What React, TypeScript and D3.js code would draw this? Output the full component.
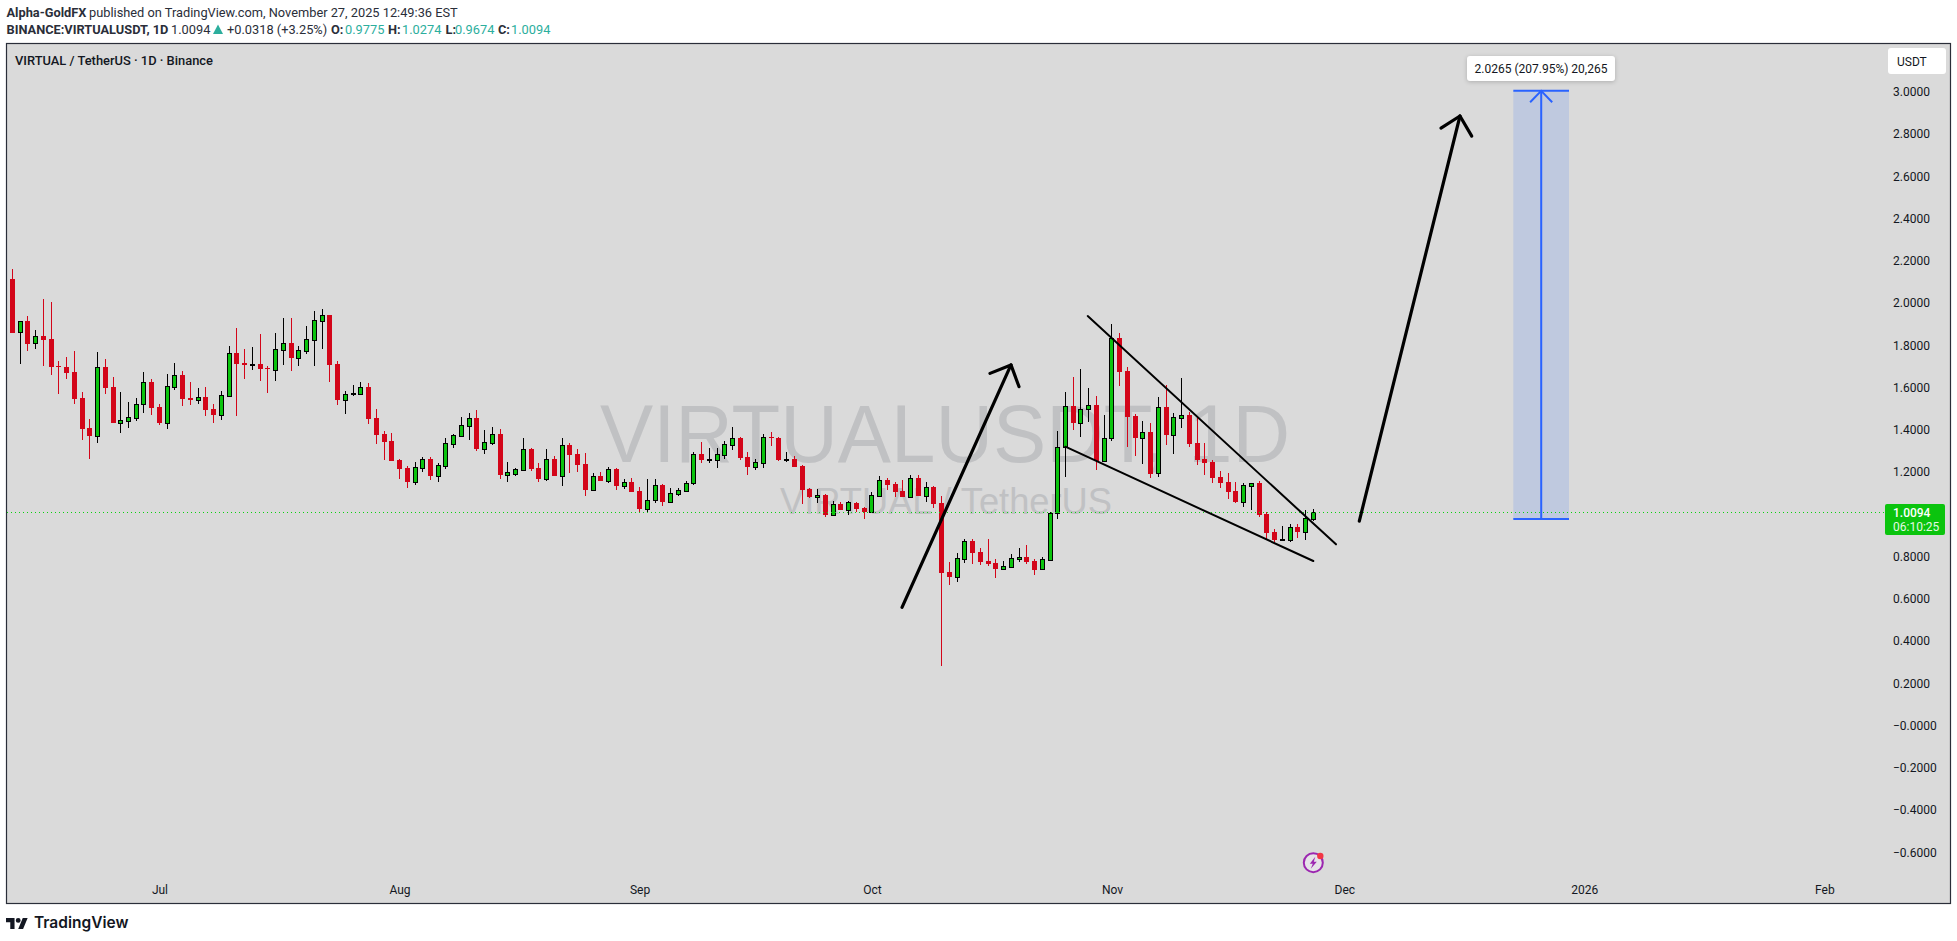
import { useEffect, useRef } from 'react';
import * as d3 from 'd3';

const width = 1957;
const height = 941;

// daily candles, 2025-06-12 to 2025-11-27
const firstDay = new Date(Date.UTC(2025, 5, 12));
const lastDay = new Date(Date.UTC(2025, 10, 27));

const opens = [
  2.114, 1.861, 1.915, 1.809, 1.844, 1.83, 1.702, 1.697, 1.673, 1.55,
  1.408, 1.372, 1.697, 1.602, 1.434, 1.443, 1.457, 1.52, 1.626, 1.508,
  1.434, 1.604, 1.659, 1.55, 1.543, 1.555, 1.498, 1.472, 1.561, 1.763,
  1.716, 1.707, 1.711, 1.692, 1.685, 1.779, 1.811, 1.741, 1.774, 1.826,
  1.916, 1.943, 1.711, 1.543, 1.569, 1.571, 1.602, 1.456, 1.38, 1.347,
  1.257, 1.219, 1.155, 1.221, 1.262, 1.183, 1.23, 1.334, 1.372, 1.42,
  1.456, 1.311, 1.339, 1.38, 1.188, 1.192, 1.21, 1.309, 1.219, 1.169,
  1.262, 1.183, 1.328, 1.285, 1.238, 1.117, 1.181, 1.159, 1.214, 1.136,
  1.153, 1.11, 1.027, 1.066, 1.139, 1.06, 1.098, 1.112, 1.147, 1.285,
  1.257, 1.259, 1.282, 1.33, 1.361, 1.271, 1.226, 1.244, 1.366, 1.361,
  1.257, 1.262, 1.229, 1.12, 1.084, 1.091, 0.998, 1.049, 1.022, 1.054,
  1.03, 1.013, 1.087, 1.162, 1.144, 1.11, 1.084, 1.172, 1.088, 1.129,
  1.054, 0.727, 0.705, 0.79, 0.874, 0.822, 0.779, 0.77, 0.743, 0.752,
  0.79, 0.798, 0.779, 0.74, 0.785, 1.005, 1.317, 1.513, 1.434, 1.497,
  1.517, 1.254, 1.36, 1.834, 1.678, 1.465, 1.363, 1.39, 1.194, 1.508,
  1.377, 1.457, 1.47, 1.338, 1.262, 1.248, 1.177, 1.153, 1.11, 1.06,
  1.136, 1.148, 1.002, 0.916, 0.878, 0.88, 0.94, 0.918, 0.9775,
];

const closes = [
  1.86, 1.913, 1.808, 1.842, 1.825, 1.697, 1.697, 1.669, 1.546, 1.404,
  1.371, 1.696, 1.598, 1.432, 1.445, 1.459, 1.52, 1.625, 1.503, 1.432,
  1.606, 1.658, 1.546, 1.541, 1.554, 1.494, 1.47, 1.563, 1.762, 1.711,
  1.707, 1.711, 1.688, 1.688, 1.781, 1.809, 1.74, 1.776, 1.828, 1.918,
  1.942, 1.707, 1.541, 1.568, 1.573, 1.601, 1.451, 1.375, 1.342, 1.252,
  1.214, 1.153, 1.222, 1.26, 1.181, 1.232, 1.336, 1.374, 1.421, 1.454,
  1.309, 1.341, 1.379, 1.186, 1.199, 1.213, 1.308, 1.214, 1.167, 1.26,
  1.181, 1.326, 1.281, 1.233, 1.115, 1.18, 1.158, 1.213, 1.134, 1.151,
  1.106, 1.025, 1.066, 1.137, 1.058, 1.099, 1.113, 1.147, 1.284, 1.257,
  1.262, 1.284, 1.331, 1.36, 1.267, 1.224, 1.246, 1.364, 1.363, 1.257,
  1.262, 1.224, 1.115, 1.082, 1.09, 0.997, 1.047, 1.02, 1.057, 1.025,
  1.011, 1.09, 1.161, 1.139, 1.106, 1.082, 1.17, 1.087, 1.128, 1.049,
  0.722, 0.703, 0.792, 0.872, 0.817, 0.774, 0.765, 0.741, 0.754, 0.792,
  0.796, 0.774, 0.736, 0.787, 1.005, 1.317, 1.511, 1.432, 1.497, 1.516,
  1.252, 1.36, 1.833, 1.674, 1.461, 1.361, 1.388, 1.191, 1.506, 1.375,
  1.459, 1.468, 1.333, 1.257, 1.243, 1.172, 1.148, 1.106, 1.058, 1.137,
  1.147, 0.997, 0.912, 0.878, 0.883, 0.938, 0.916, 0.981, 1.0094,
];

const highs = [
  2.161, 1.915, 1.939, 1.872, 2.019, 2.005, 1.726, 1.744, 1.773, 1.579,
  1.451, 1.768, 1.735, 1.65, 1.579, 1.531, 1.55, 1.673, 1.64, 1.522,
  1.664, 1.716, 1.678, 1.626, 1.598, 1.602, 1.522, 1.584, 1.797, 1.882,
  1.782, 1.792, 1.853, 1.702, 1.858, 1.929, 1.929, 1.797, 1.891, 1.962,
  1.972, 1.943, 1.726, 1.584, 1.612, 1.626, 1.621, 1.498, 1.394, 1.385,
  1.262, 1.229, 1.248, 1.271, 1.271, 1.243, 1.36, 1.38, 1.461, 1.479,
  1.494, 1.399, 1.413, 1.404, 1.248, 1.219, 1.361, 1.314, 1.243, 1.309,
  1.276, 1.361, 1.338, 1.309, 1.29, 1.196, 1.2, 1.224, 1.219, 1.167,
  1.172, 1.129, 1.167, 1.167, 1.143, 1.125, 1.125, 1.158, 1.295, 1.342,
  1.314, 1.314, 1.345, 1.413, 1.366, 1.295, 1.262, 1.38, 1.39, 1.366,
  1.295, 1.276, 1.233, 1.125, 1.12, 1.096, 1.063, 1.058, 1.063, 1.058,
  1.035, 1.106, 1.181, 1.172, 1.153, 1.162, 1.186, 1.186, 1.153, 1.134,
  1.087, 0.774, 0.815, 0.883, 0.883, 0.841, 0.883, 0.789, 0.779, 0.812,
  0.841, 0.855, 0.789, 0.798, 1.011, 1.394, 1.579, 1.65, 1.688, 1.598,
  1.56, 1.47, 1.901, 1.858, 1.697, 1.475, 1.442, 1.432, 1.555, 1.612,
  1.48, 1.645, 1.484, 1.461, 1.338, 1.257, 1.205, 1.195, 1.153, 1.148,
  1.148, 1.158, 1.011, 0.931, 0.945, 0.954, 0.954, 1.02, 1.0274,
];

const lows = [
  1.86, 1.711, 1.773, 1.782, 1.702, 1.659, 1.569, 1.64, 1.522, 1.352,
  1.262, 1.337, 1.569, 1.432, 1.385, 1.408, 1.442, 1.479, 1.47, 1.423,
  1.404, 1.588, 1.513, 1.517, 1.522, 1.465, 1.432, 1.446, 1.555, 1.465,
  1.64, 1.683, 1.631, 1.574, 1.631, 1.707, 1.678, 1.702, 1.759, 1.702,
  1.782, 1.626, 1.517, 1.475, 1.56, 1.568, 1.427, 1.333, 1.257, 1.252,
  1.167, 1.125, 1.139, 1.2, 1.162, 1.153, 1.214, 1.314, 1.366, 1.352,
  1.3, 1.285, 1.328, 1.167, 1.153, 1.181, 1.205, 1.205, 1.153, 1.158,
  1.181, 1.134, 1.196, 1.2, 1.087, 1.115, 1.158, 1.148, 1.115, 1.12,
  1.106, 1.006, 1.006, 1.054, 1.039, 1.058, 1.087, 1.11, 1.139, 1.243,
  1.243, 1.219, 1.262, 1.304, 1.257, 1.186, 1.21, 1.219, 1.323, 1.252,
  1.248, 1.224, 1.049, 1.077, 1.054, 0.987, 0.992, 1.02, 0.997, 1.011,
  0.978, 1.011, 1.082, 1.115, 1.082, 1.082, 1.077, 1.087, 1.058, 1.03,
  0.282, 0.666, 0.68, 0.77, 0.765, 0.76, 0.755, 0.699, 0.741, 0.746,
  0.774, 0.765, 0.713, 0.74, 0.781, 0.978, 1.177, 1.399, 1.366, 1.437,
  1.21, 1.248, 1.347, 1.607, 1.319, 1.276, 1.238, 1.172, 1.177, 1.328,
  1.285, 1.408, 1.319, 1.233, 1.186, 1.148, 1.124, 1.072, 1.054, 1.035,
  1.02, 0.987, 0.878, 0.869, 0.875, 0.869, 0.888, 0.878, 0.9674,
];

const priceTicks = [3, 2.8, 2.6, 2.4, 2.2, 2, 1.8, 1.6, 1.4, 1.2, 1, 0.8, 0.6, 0.4, 0.2, 0, -0.2, -0.4, -0.6];
const priceLabels = [
  '3.0000', '2.8000', '2.6000', '2.4000', '2.2000', '2.0000', '1.8000', '1.6000', '1.4000', '1.2000',
  '1.0000', '0.8000', '0.6000', '0.4000', '0.2000', '\u22120.0000', '\u22120.2000', '\u22120.4000', '\u22120.6000',
];

const monthTicks = [
  new Date(Date.UTC(2025, 6, 1)),
  new Date(Date.UTC(2025, 7, 1)),
  new Date(Date.UTC(2025, 8, 1)),
  new Date(Date.UTC(2025, 9, 1)),
  new Date(Date.UTC(2025, 10, 1)),
  new Date(Date.UTC(2025, 11, 1)),
  new Date(Date.UTC(2026, 0, 1)),
  new Date(Date.UTC(2026, 1, 1)),
];
const monthLabels = ['Jul', 'Aug', 'Sep', 'Oct', 'Nov', 'Dec', '2026', 'Feb'];

const lastPrice = 1.0094;

// hand drawn lines on the chart, as [days after firstDay, price]
const wedgeUpper = [[138.87, 1.938], [170.93, 0.858]];
const wedgeLower = [[135.98, 1.32], [168, 0.779]];
const arrowOne = [[114.89, 0.56], [128.96, 1.707]];
const arrowOneHead = [[126.25, 1.667], [128.96, 1.707], [130, 1.604]];
const arrowTwo = [[173.94, 0.968], [186.94, 2.885]];
const arrowTwoHead = [[184.49, 2.828], [186.94, 2.885], [188.46, 2.79]];

// long position measure box
const measureDays = [193.83, 197.43, 201.02];
const measurePrices = [0.9775, 3.004];
const measureHead = [[196.0, 2.95], [197.43, 3.004], [198.85, 2.95]];

const green = '#0bc40e';
const red = '#d30519';
const ink = '#131722';
const uiFont = 'Roboto, "Liberation Sans", sans-serif';

export default function App() {
  const svgRef = useRef<SVGSVGElement>(null);

  useEffect(() => {
    const svg = d3.select(svgRef.current);
    svg.selectAll('*').remove();

    const x = d3.scaleUtc().domain([firstDay, lastDay]).range([12.33, 1313.3]);
    const y = d3.scaleLinear().domain([-0.6, 3]).range([852.4, 91.7]);
    const xDay = (d: number) => x(new Date(+firstDay + d * 864e5));
    const line = d3.line<number[]>().x(d => xDay(d[0])).y(d => y(d[1]));

    svg.append('rect').attr('width', width).attr('height', height).attr('fill', '#ffffff');

    // Pane
    svg.append('rect')
      .attr('x', 6.5).attr('y', 43.5)
      .attr('width', 1944).attr('height', 860)
      .attr('fill', '#dadada')
      .attr('stroke', '#2a2e39')
      .attr('stroke-width', 1.2);

    // Watermark
    svg.append('text')
      .attr('x', 600).attr('y', 462)
      .attr('textLength', 690)
      .attr('lengthAdjust', 'spacingAndGlyphs')
      .style('font-family', '"Liberation Sans", sans-serif')
      .style('font-size', '81px')
      .style('fill', '#c0c1c3')
      .text('VIRTUALUSDT, 1D');
    svg.append('text')
      .attr('x', 780).attr('y', 514)
      .attr('textLength', 332)
      .attr('lengthAdjust', 'spacingAndGlyphs')
      .style('font-family', '"Liberation Sans", sans-serif')
      .style('font-size', '36px')
      .style('fill', '#c0c1c3')
      .text('VIRTUAL / TetherUS');

    // Measure box
    svg.append('rect')
      .attr('x', xDay(measureDays[0]))
      .attr('y', y(measurePrices[1]))
      .attr('width', xDay(measureDays[2]) - xDay(measureDays[0]))
      .attr('height', y(measurePrices[0]) - y(measurePrices[1]))
      .attr('fill', '#bfc9df');
    const blue = svg.append('g').attr('fill', 'none').attr('stroke', '#2962ff').attr('stroke-width', 2);
    measurePrices.forEach(p => {
      blue.append('path').attr('d', line([[measureDays[0], p], [measureDays[2], p]]));
    });
    blue.append('path').attr('d', line([[measureDays[1], measurePrices[0]], [measureDays[1], measurePrices[1]]]));
    blue.append('path').attr('d', line(measureHead));

    // Candles
    const candles = opens.map((o, i) => ({ i, o, c: closes[i], h: highs[i], l: lows[i] }));
    const cx = (i: number) => Math.floor(xDay(i)) + 0.5;
    const g = svg.append('g').attr('shape-rendering', 'crispEdges');

    g.selectAll('.wick')
      .data(candles)
      .enter().append('line')
      .attr('class', 'wick')
      .attr('x1', d => cx(d.i))
      .attr('x2', d => cx(d.i))
      .attr('y1', d => y(d.h))
      .attr('y2', d => y(d.l))
      .attr('stroke', d => (d.c >= d.o ? '#000000' : red))
      .attr('stroke-width', 1);

    g.selectAll('.body')
      .data(candles)
      .enter().append('rect')
      .attr('class', 'body')
      .each(function (d) {
        const up = d.c >= d.o;
        const top = Math.round(y(Math.max(d.o, d.c)));
        const bottom = Math.round(y(Math.min(d.o, d.c)));
        const sel = d3.select(this);
        if (up) {
          sel.attr('x', cx(d.i) - 2).attr('width', 4)
            .attr('y', top + 0.5).attr('height', Math.max(1, bottom - top))
            .attr('fill', green).attr('stroke', '#000000');
        } else {
          sel.attr('x', cx(d.i) - 2.5).attr('width', 5)
            .attr('y', top).attr('height', Math.max(1, bottom - top))
            .attr('fill', red);
        }
      });

    // Last price line
    svg.append('line')
      .attr('x1', 7).attr('x2', 1884)
      .attr('y1', Math.round(y(lastPrice)) + 0.5).attr('y2', Math.round(y(lastPrice)) + 0.5)
      .attr('stroke', '#0ad20f')
      .attr('stroke-width', 1)
      .attr('shape-rendering', 'crispEdges')
      .attr('stroke-dasharray', '1 3');

    // Drawings
    const drawn = svg.append('g')
      .attr('fill', 'none')
      .attr('stroke', '#000000')
      .attr('stroke-linecap', 'round')
      .attr('stroke-linejoin', 'round');
    [wedgeUpper, wedgeLower].forEach(l => {
      drawn.append('path').attr('d', line(l)).attr('stroke-width', 2);
    });
    [arrowOne, arrowOneHead, arrowTwo, arrowTwoHead].forEach(l => {
      drawn.append('path').attr('d', line(l)).attr('stroke-width', 3.2);
    });

    // Price axis
    const yAxis = svg.append('g')
      .attr('transform', 'translate(1893,0)')
      .call(d3.axisRight(y).tickValues(priceTicks).tickSize(0).tickPadding(0)
        .tickFormat((_, i) => priceLabels[i]));
    yAxis.select('.domain').remove();
    yAxis.selectAll('text')
      .style('font-family', uiFont)
      .style('font-size', '12px')
      .style('fill', ink);

    // Time axis
    const xAxis = svg.append('g')
      .attr('transform', 'translate(0,885)')
      .call(d3.axisBottom(x).tickValues(monthTicks).tickSize(0).tickPadding(0)
        .tickFormat((_, i) => monthLabels[i]));
    xAxis.select('.domain').remove();
    xAxis.selectAll('text')
      .style('font-family', uiFont)
      .style('font-size', '12px')
      .style('fill', ink);

    // Measure label
    svg.append('rect')
      .attr('x', 1467).attr('y', 56)
      .attr('width', 148).attr('height', 25)
      .attr('rx', 3)
      .attr('fill', '#ffffff')
      .style('filter', 'drop-shadow(0 1px 2px rgba(0,0,0,0.2))');
    svg.append('text')
      .attr('x', 1541).attr('y', 72.5)
      .attr('text-anchor', 'middle')
      .style('font-family', uiFont)
      .style('font-size', '12px')
      .style('fill', ink)
      .text('2.0265 (207.95%) 20,265');

    // USDT button
    svg.append('rect')
      .attr('x', 1888).attr('y', 48)
      .attr('width', 58).attr('height', 26)
      .attr('rx', 3)
      .attr('fill', '#ffffff');
    svg.append('text')
      .attr('x', 1897).attr('y', 66)
      .style('font-family', uiFont)
      .style('font-size', '12px')
      .style('fill', ink)
      .text('USDT');

    // Last price label
    svg.append('rect')
      .attr('x', 1885).attr('y', 504)
      .attr('width', 60).attr('height', 31)
      .attr('rx', 2)
      .attr('fill', green);
    svg.append('text')
      .attr('x', 1893).attr('y', 517)
      .style('font-family', uiFont)
      .style('font-size', '12px')
      .style('font-weight', '500')
      .style('fill', '#ffffff')
      .text(lastPrice.toFixed(4));
    svg.append('text')
      .attr('x', 1893).attr('y', 531)
      .style('font-family', uiFont)
      .style('font-size', '12px')
      .style('fill', '#e3f8e3')
      .text('06:10:25');

    // Pane title
    svg.append('text')
      .attr('x', 15).attr('y', 65)
      .style('font-family', uiFont)
      .style('font-size', '12.9px')
      .style('font-weight', '500')
      .style('fill', ink)
      .text('VIRTUAL / TetherUS \u00b7 1D \u00b7 Binance');

    // Header lines
    const head = svg.append('g')
      .style('font-family', uiFont)
      .style('font-size', '12.8px')
      .style('fill', '#2a2e39');
    const line1 = head.append('text').attr('x', 6.5).attr('y', 17);
    line1.append('tspan').style('font-weight', '700').text('Alpha-GoldFX');
    line1.append('tspan').attr('x', 89).text('published on TradingView.com, November 27, 2025 12:49:36 EST');

    const teal = '#2cae9d';
    const parts: [number, string, string, string][] = [
      [6.5, 'BINANCE:VIRTUALUSDT, 1D', '700', '#2a2e39'],
      [171, '1.0094', '400', '#2a2e39'],
      [227, '+0.0318 (+3.25%)', '400', '#2a2e39'],
      [331, 'O:', '700', '#2a2e39'],
      [345, '0.9775', '400', teal],
      [388, 'H:', '700', '#2a2e39'],
      [402, '1.0274', '400', teal],
      [445.5, 'L:', '700', '#2a2e39'],
      [455, '0.9674', '400', teal],
      [498, 'C:', '700', '#2a2e39'],
      [511, '1.0094', '400', teal],
    ];
    parts.forEach(([px, t, w, c]) => {
      head.append('text').attr('x', px).attr('y', 34)
        .style('font-weight', w).style('fill', c).text(t);
    });
    svg.append('path').attr('d', 'M218 24.5L223 34H213Z').attr('fill', teal);

    // Lightning badge
    const badge = svg.append('g').attr('transform', 'translate(1313.3,862.7)');
    badge.append('circle').attr('r', 9.5).attr('fill', '#e6e3e8').attr('stroke', '#9c27b0').attr('stroke-width', 2);
    badge.append('path').attr('d', 'M2 -6L-3.5 1H-0.5L-2.5 6L3.5 -1H0.5Z').attr('fill', '#9c27b0');
    badge.append('circle').attr('cx', 7).attr('cy', -6.7).attr('r', 3.2).attr('fill', '#f23645');

    // Footer logo
    svg.append('path')
      .attr('transform', 'translate(6,915.5) scale(0.61)')
      .attr('d', 'M14 22H7V11H0V4h14v18zM28 22h-8l7.5-18h8L28 22zM20 4a4 4 0 1 1 0 8 4 4 0 0 1 0-8z')
      .attr('fill', '#131722');
    svg.append('text')
      .attr('x', 34).attr('y', 928)
      .style('font-family', 'Inter, sans-serif')
      .style('font-size', '15.5px')
      .style('font-weight', '600')
      .style('fill', '#131722')
      .text('TradingView');
  }, []);

  return (
    <svg
      ref={svgRef}
      width={width}
      height={height}
      style={{ position: 'fixed', left: 0, top: 0, display: 'block' }}
    />
  );
}
